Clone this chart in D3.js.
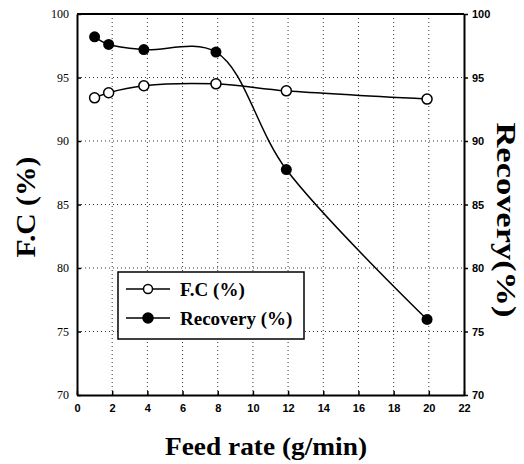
<!DOCTYPE html>
<html>
<head>
<meta charset="utf-8">
<script src="https://cdn.jsdelivr.net/npm/d3@7"></script>
<style>
  body { margin: 0; background: #fff; }
  svg { display: block; }
</style>
</head>
<body>
<div id="chart"></div>
<script>
// values
const feedRate = [1, 1.8, 3.8, 7.9, 11.9, 19.9];
const fcValues = [93.4, 93.8, 94.35, 94.5, 93.95, 93.3];
const recoveryValues = [98.2, 97.6, 97.2, 97.0, 87.75, 75.95];
const xTicks = [0, 2, 4, 6, 8, 10, 12, 14, 16, 18, 20, 22];
const yTicks = [70, 75, 80, 85, 90, 95, 100];

const SERIF = "Liberation Serif";
const SANS = "Liberation Sans";

const W = 524, H = 464;
const margin = { top: 14, right: 60, bottom: 69, left: 77 };
const width = W - margin.left - margin.right;
const height = H - margin.top - margin.bottom;

const svg = d3.select("#chart").append("svg")
  .attr("width", W)
  .attr("height", H);

const g = svg.append("g")
  .attr("transform", `translate(${margin.left},${margin.top})`);

const x = d3.scaleLinear().domain([0, 22]).range([0, width]);
const yL = d3.scaleLinear().domain([70, 100]).range([height, 0]);
const yR = d3.scaleLinear().domain([70, 100]).range([height, 0]);

// dotted grid
g.append("g").selectAll("line")
  .data(xTicks.filter(d => d > 0 && d < 22))
  .join("line")
  .attr("x1", d => x(d)).attr("x2", d => x(d))
  .attr("y1", 0).attr("y2", height)
  .attr("stroke", "#333").attr("stroke-width", 1)
  .attr("stroke-dasharray", "1,3");

g.append("g").selectAll("line")
  .data(yTicks.filter(d => d > 70 && d < 100))
  .join("line")
  .attr("x1", 0).attr("x2", width)
  .attr("y1", d => yL(d)).attr("y2", d => yL(d))
  .attr("stroke", "#333").attr("stroke-width", 1)
  .attr("stroke-dasharray", "1,3");

// axes
const bottom = g.append("g")
  .attr("transform", `translate(0,${height})`)
  .call(d3.axisBottom(x).tickValues(xTicks).tickSizeInner(-4).tickSizeOuter(0).tickPadding(9));
bottom.selectAll("text")
  .attr("font-family", SANS)
  .attr("font-weight", "bold")
  .attr("font-size", 11);

const left = g.append("g")
  .call(d3.axisLeft(yL).tickValues(yTicks).tickSizeInner(-4).tickSizeOuter(0).tickPadding(8));
left.selectAll("text")
  .attr("font-family", SERIF)
  .attr("font-size", 12);

const right = g.append("g")
  .attr("transform", `translate(${width},0)`)
  .call(d3.axisRight(yR).tickValues(yTicks).tickSizeInner(4).tickSizeOuter(0).tickPadding(4));
right.selectAll("text")
  .attr("font-family", SANS)
  .attr("font-weight", "bold")
  .attr("font-size", 11);

[bottom, left, right].forEach(a => {
  a.selectAll("text").attr("fill", "#000");
  a.select(".domain").attr("stroke", "#000").attr("stroke-width", 2);
  a.selectAll(".tick line").attr("stroke", "#000").attr("stroke-width", 1.5);
});

g.append("line")
  .attr("x1", 0).attr("x2", width).attr("y1", 0).attr("y2", 0)
  .attr("stroke", "#000").attr("stroke-width", 2);

// lines
const lineFc = d3.line()
  .x((d, i) => x(feedRate[i]))
  .y(d => yL(d))
  .curve(d3.curveCatmullRom.alpha(0.5));

const lineRec = d3.line()
  .x((d, i) => x(feedRate[i]))
  .y(d => yR(d))
  .curve(d3.curveCatmullRom.alpha(0.5));

g.append("path")
  .datum(fcValues)
  .attr("fill", "none").attr("stroke", "#000").attr("stroke-width", 1.5)
  .attr("d", lineFc);

g.append("path")
  .datum(recoveryValues)
  .attr("fill", "none").attr("stroke", "#000").attr("stroke-width", 1.5)
  .attr("d", lineRec);

g.append("g").selectAll("circle")
  .data(fcValues)
  .join("circle")
  .attr("cx", (d, i) => x(feedRate[i]))
  .attr("cy", d => yL(d))
  .attr("r", 5)
  .attr("fill", "#fff").attr("stroke", "#000").attr("stroke-width", 1.5);

g.append("g").selectAll("circle")
  .data(recoveryValues)
  .join("circle")
  .attr("cx", (d, i) => x(feedRate[i]))
  .attr("cy", d => yR(d))
  .attr("r", 5.5)
  .attr("fill", "#000");

// legend
const legend = svg.append("g").attr("transform", "translate(118,272)");
legend.append("rect")
  .attr("width", 186).attr("height", 67)
  .attr("fill", "#fff").attr("stroke", "#000").attr("stroke-width", 1.5);

const items = [
  { label: "F.C (%)", open: true },
  { label: "Recovery (%)", open: false }
];
const li = legend.selectAll("g.item")
  .data(items)
  .join("g")
  .attr("transform", (d, i) => `translate(0,${17 + i * 29})`);
li.append("line")
  .attr("x1", 8).attr("x2", 52)
  .attr("stroke", "#000").attr("stroke-width", 1.5);
li.append("circle")
  .attr("cx", 30).attr("r", d => d.open ? 4.5 : 5)
  .attr("fill", d => d.open ? "#fff" : "#000")
  .attr("stroke", "#000").attr("stroke-width", 1.5);
li.append("text")
  .attr("x", 62).attr("dy", "0.35em")
  .attr("font-family", SERIF)
  .attr("font-weight", "bold")
  .attr("font-size", 19)
  .text(d => d.label);

// axis titles (the scan's lettering is wider than Liberation Serif, hence textLength)
svg.append("text")
  .attr("transform", "translate(35,207) rotate(-90)")
  .attr("text-anchor", "middle")
  .attr("font-family", SERIF)
  .attr("font-weight", "bold")
  .attr("font-size", 28)
  .attr("textLength", 101)
  .attr("lengthAdjust", "spacingAndGlyphs")
  .text("F.C (%)");

svg.append("text")
  .attr("transform", "translate(497,220) rotate(90)")
  .attr("text-anchor", "middle")
  .attr("font-family", SERIF)
  .attr("font-weight", "bold")
  .attr("font-size", 28)
  .attr("textLength", 195)
  .attr("lengthAdjust", "spacingAndGlyphs")
  .text("Recovery(%)");

svg.append("text")
  .attr("x", 266).attr("y", 455)
  .attr("text-anchor", "middle")
  .attr("font-family", SERIF)
  .attr("font-weight", "bold")
  .attr("font-size", 25)
  .attr("textLength", 202)
  .attr("lengthAdjust", "spacingAndGlyphs")
  .text("Feed rate (g/min)");
</script>
</body>
</html>
